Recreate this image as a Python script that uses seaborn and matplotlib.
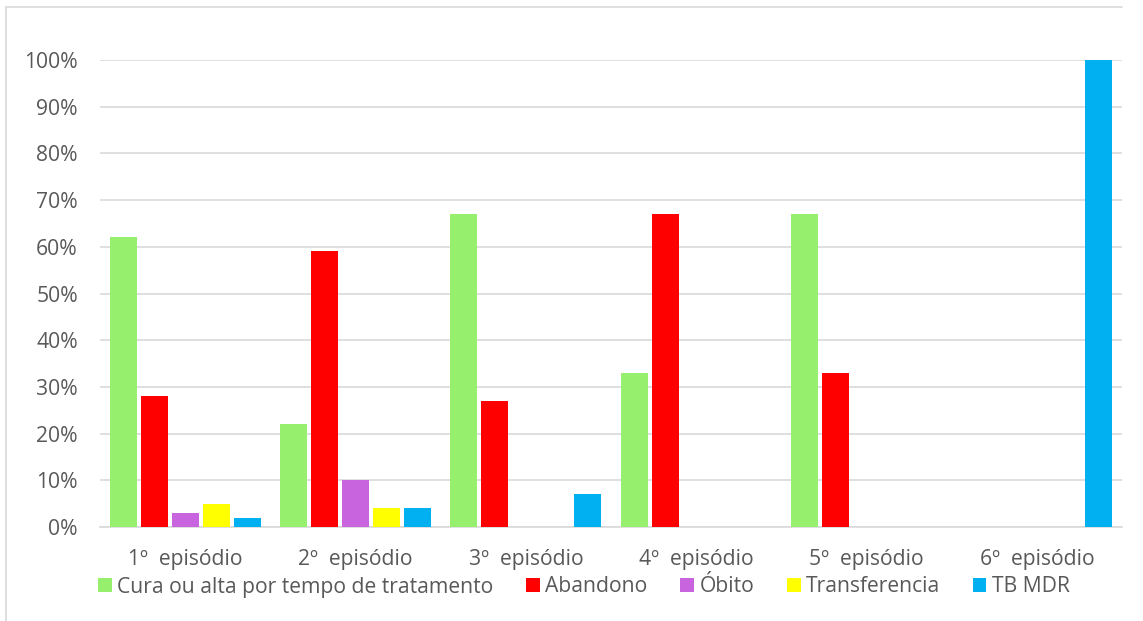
import matplotlib
matplotlib.use("Agg")
import matplotlib.pyplot as plt
import pandas as pd
import seaborn as sns
from matplotlib.lines import Line2D
from matplotlib.patches import Patch
from matplotlib.ticker import PercentFormatter

episodes = ["1º  episódio", "2º  episódio", "3º  episódio",
            "4º  episódio", "5º  episódio", "6º  episódio"]
outcomes = ["Cura ou alta por tempo de tratamento", "Abandono", "Óbito",
            "Transferencia", "TB MDR"]
cura          = [62, 22, 67, 33, 67, 0]
abandono      = [28, 59, 27, 67, 33, 0]
obito         = [3, 10, 0, 0, 0, 0]
transferencia = [5, 4, 0, 0, 0, 0]
tb_mdr        = [2, 4, 7, 0, 0, 100]
colors = ["#96f06e", "#ff0000", "#c764de", "#ffff00", "#00b0f0"]

rows = []
for name, vals in zip(outcomes, [cura, abandono, obito, transferencia, tb_mdr]):
    for ep, v in zip(episodes, vals):
        rows.append({"Episodio": ep, "Desfecho": name, "Pct": v})
df = pd.DataFrame(rows)

sns.set_theme(style="white")
plt.rcParams["font.family"] = ["Open Sans", "DejaVu Sans"]
txt = "#595959"
fs = 15.2

fig = plt.figure(figsize=(11.43, 6.21), dpi=100)
ax = fig.add_axes([100 / 1143, 94 / 621, 1022 / 1143, 467 / 621])

pal = dict(zip(outcomes, colors))
sns.barplot(data=df, x="Episodio", y="Pct", hue="Desfecho", order=episodes,
            hue_order=outcomes, palette=pal, width=0.91, gap=0.13,
            linewidth=0, saturation=1, ax=ax, zorder=3)
if ax.get_legend():
    ax.get_legend().remove()

ax.set_ylim(0, 100)
ax.set_yticks(range(0, 101, 10))
ax.yaxis.set_major_formatter(PercentFormatter(decimals=0))
ax.set_xlim(-0.5, 5.5)
ax.grid(axis="y", color="#d9d9d9", linewidth=1.2, zorder=0)
ax.set_axisbelow(True)
for s in ["top", "right", "left"]:
    ax.spines[s].set_visible(False)
ax.spines["bottom"].set_color("#d9d9d9")
ax.spines["bottom"].set_linewidth(1.2)
ax.tick_params(axis="both", length=0, colors=txt, labelsize=fs)
ax.tick_params(axis="y", pad=16)
ax.tick_params(axis="x", pad=16)
ax.set_xlabel("")
ax.set_ylabel("")

handles = [Patch(facecolor=c, edgecolor="none") for c in colors]
fig.legend(handles, outcomes, loc="center", bbox_to_anchor=(0.511, 34 / 621),
           ncol=5, frameon=False, fontsize=fs, labelcolor=txt,
           handlelength=0.65, handleheight=0.65, handletextpad=0.25,
           columnspacing=1.55)

# outer chart border (top and left visible)
fig.add_artist(Line2D([6 / 1143, 1122 / 1143], [1 - 7 / 621, 1 - 7 / 621],
                      color="#d9d9d9", linewidth=1.2, transform=fig.transFigure))
fig.add_artist(Line2D([6 / 1143, 6 / 1143], [0, 1 - 7 / 621],
                      color="#d9d9d9", linewidth=1.2, transform=fig.transFigure))

fig.savefig("out.png", dpi=100)
